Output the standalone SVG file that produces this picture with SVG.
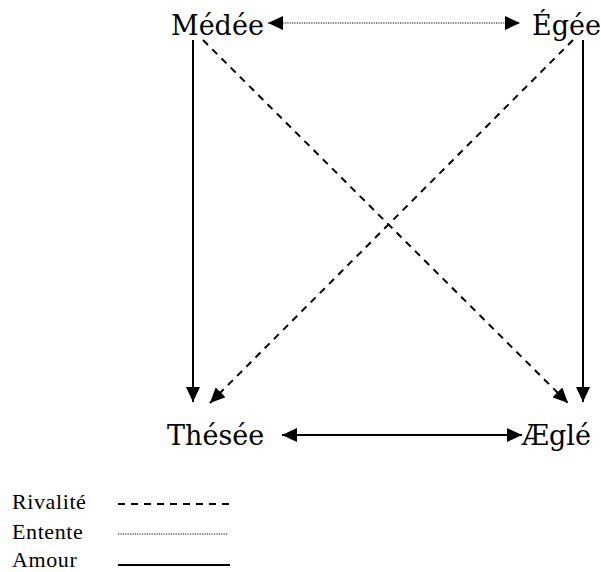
<svg xmlns="http://www.w3.org/2000/svg" width="601" height="572" viewBox="0 0 601 572">
<style>
.node{font-family:"DejaVu Serif","Liberation Serif",serif;font-size:27px;fill:#000}
.leg{font-family:"Liberation Serif",serif;font-size:22px;fill:#000;letter-spacing:0.6px}
.solid{stroke:#000;stroke-width:2;fill:none}
.dash{stroke:#000;stroke-width:2;fill:none;stroke-dasharray:7 6}
.dot{stroke:#000;stroke-width:1.2;fill:none;stroke-dasharray:1.2 1.2}
</style>
<defs>
<marker id="ah" markerUnits="userSpaceOnUse" markerWidth="16" markerHeight="14" refX="15" refY="7" orient="auto-start-reverse">
<path d="M0,0 L15,7 L0,14 Z" fill="#000"/>
</marker>
</defs>
<rect width="601" height="572" fill="#fff"/>
<g id="medee"><text class="node" x="171" y="35">Médée</text></g>
<g id="egee"><text class="node" x="532" y="35">Égée</text></g>
<g id="thesee"><text class="node" x="167" y="445">Thésée</text></g>
<g id="aegle"><text class="node" x="522" y="445">Æglé</text></g>
<g id="connectors">
<line class="dot" x1="268" y1="23" x2="520" y2="23" marker-start="url(#ah)" marker-end="url(#ah)"/>
<line class="solid" x1="282" y1="435" x2="522" y2="435" marker-start="url(#ah)" marker-end="url(#ah)"/>
<line class="solid" x1="193" y1="40" x2="193" y2="402" marker-end="url(#ah)"/>
<line class="solid" x1="583" y1="40" x2="583" y2="402" marker-end="url(#ah)"/>
<line class="dash" x1="203" y1="40" x2="568" y2="403" marker-end="url(#ah)"/>
<line class="dash" x1="573" y1="40" x2="210" y2="403" marker-end="url(#ah)"/>
</g>
<g id="legend">
<text class="leg" x="12" y="509">Rivalité</text>
<text class="leg" x="12" y="539">Entente</text>
<text class="leg" x="12" y="567">Amour</text>
<line class="dash" x1="118" y1="504" x2="230" y2="504"/>
<line class="dot" x1="118" y1="534" x2="228" y2="534"/>
<line class="solid" x1="118" y1="565" x2="230" y2="565"/>
</g>
</svg>
